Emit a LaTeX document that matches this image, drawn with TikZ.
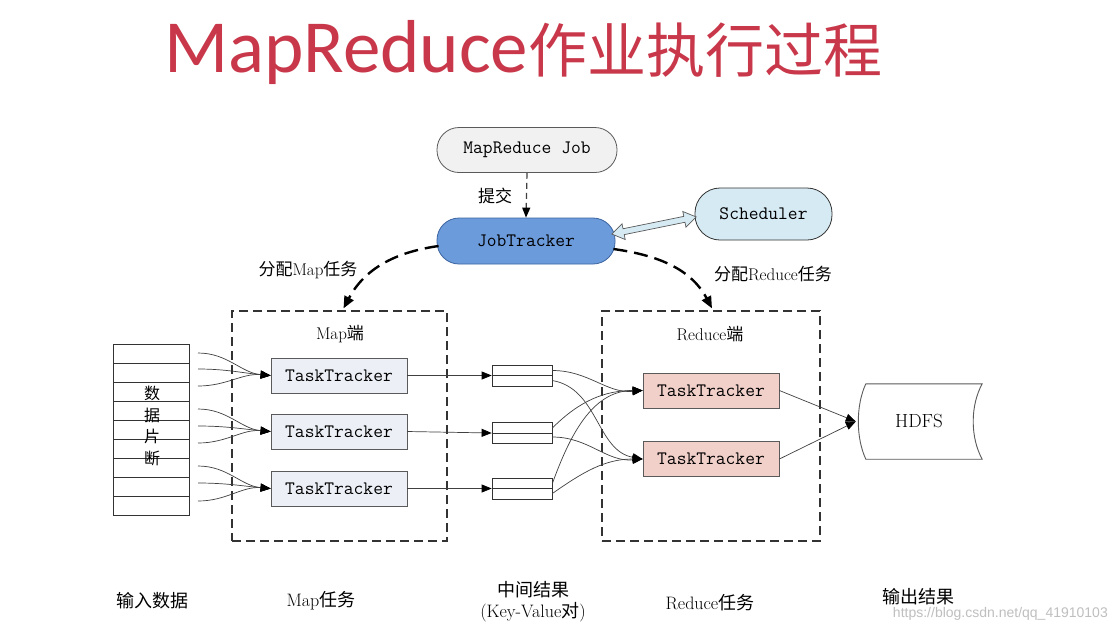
\documentclass[tikz,border=0pt]{standalone}
\usepackage{fontspec}
\newfontfamily\cjk{Noto Sans CJK SC}
\newfontfamily\wmfont{Liberation Sans}
\newfontfamily\titlefont{Carlito}
\usetikzlibrary{arrows.meta,calc}
\definecolor{titlered}{RGB}{200,56,74}
\definecolor{jobgray}{RGB}{241,241,241}
\definecolor{jtblue}{RGB}{108,155,219}
\definecolor{jtborder}{RGB}{60,100,160}
\definecolor{schblue}{RGB}{214,234,243}
\definecolor{ttmap}{RGB}{236,240,246}
\definecolor{ttred}{RGB}{242,208,202}
\definecolor{edge}{RGB}{90,90,90}
\begin{document}
\begin{tikzpicture}[x=1pt,y=-1pt,
  mono/.style={font=\fontsize{19}{19}\selectfont\ttfamily},
  pill/.style={mono, draw=edge, rounded corners=22pt, minimum height=45, inner sep=0, line width=0.8pt},
  ttbox/.style={mono, draw=edge, minimum width=136, minimum height=35, inner sep=0, line width=0.8pt},
  dbox/.style={draw=black!80, dashed, dash pattern=on 9pt off 5pt, line width=1.2pt},
  kv/.style={draw=black!80, minimum width=60, minimum height=21, inner sep=0, line width=0.7pt},
  flow/.style={draw=black!75, line width=0.7pt, -{Triangle[length=10pt,width=8pt,fill=black,color=black]}},
  assign/.style={line width=2.4pt, dash pattern=on 14pt off 7pt, -{Triangle[length=12pt,width=10pt]}},
  lbl/.style={font=\fontsize{17}{17}\selectfont, inner sep=0},
  bot/.style={font=\fontsize{18}{18}\selectfont, inner sep=0}
]
\useasboundingbox[fill=white] (0,0) rectangle (1116,630);

% title
\node[text=titlered, inner sep=0, anchor=base west] (title) at (164,72)
  {{\titlefont\fontsize{75}{75}\selectfont MapReduce}{\cjk\fontsize{59}{59}\selectfont 作业执行过程}};

% top part
\node[pill, fill=jobgray, minimum width=180] (job) at (527,150) {MapReduce Job};
\node[pill, fill=jtblue, draw=jtborder, minimum width=178, minimum height=46] (jt) at (526,241) {JobTracker};
\node[pill, fill=schblue, draw=black!80, minimum width=137, minimum height=52, rounded corners=25pt] (sch) at (763.5,214) {Scheduler};
\draw[flow, dashed, dash pattern=on 6pt off 4pt, line width=1.2pt] (job.south) -- (jt.north);
\node[lbl, font=\cjk\fontsize{17}{17}\selectfont] (submit) at (495,196) {提交};
\coordinate (dblmid) at ($(jt.east)!0.5!(sch.west)+(-1,-2)$);
\begin{scope}[shift={(dblmid)}, rotate=11.5]
  \draw[edge, fill=schblue, line width=0.7pt]
    (-43,0) -- (-31,8) -- (-31,3) -- (31,3) -- (31,8) -- (43,0) -- (31,-8) -- (31,-3) -- (-31,-3) -- (-31,-8) -- cycle;
\end{scope}

% dashed boxes
\node[dbox, minimum width=215, minimum height=230] (mapbox) at (339.5,426) {};
\node[dbox, minimum width=218, minimum height=230] (redbox) at (711,426) {};
\node[lbl] (maplbl) at (340,334) {Map{\cjk 端}};
\node[lbl] (redlbl) at (710,334) {Reduce{\cjk 端}};

% assignment arrows
\draw[assign] ($(jt.west)+(2,5)$) to[out=188, in=62] ($(mapbox.north)+(4,-2)$);
\draw[assign] ($(jt.east)+(-2,8)$) to[out=-8, in=118] ($(redbox.north)+(1,-2)$);
\node[lbl] (amap) at (308,270) {{\cjk 分配}Map{\cjk 任务}};
\node[lbl] (ared) at (773,274) {{\cjk 分配}Reduce{\cjk 任务}};

% input data stack
\node[draw=black!80, minimum width=76, minimum height=171, inner sep=0, line width=0.8pt] (input) at (151.5,430) {};
\foreach \k in {1,...,8} \draw[black!80, line width=0.8pt] (113.5,{344.5+19*\k}) -- (189.5,{344.5+19*\k});
\node[font=\cjk\fontsize{16}{21.5}\selectfont, inner sep=0, align=center] (frag) at (152,426)
  {数\\据\\片\\断};

% map tasktrackers
\node[ttbox, fill=ttmap] (m1) at (339,375.5) {TaskTracker};
\node[ttbox, fill=ttmap] (m2) at (339,431.5) {TaskTracker};
\node[ttbox, fill=ttmap] (m3) at (339,488.5) {TaskTracker};

% input arrows
\foreach \i/\y in {1/353,2/369,3/386} {\coordinate (ia\i) at (198,\y); \draw[flow] (ia\i) to[out=0,in=175] (m1.west);}
\foreach \i/\y in {1/409,2/426,3/443} {\coordinate (ib\i) at (198,\y); \draw[flow] (ib\i) to[out=0,in=175] (m2.west);}
\foreach \i/\y in {1/466,2/483,3/501} {\coordinate (ic\i) at (198,\y); \draw[flow] (ic\i) to[out=0,in=175] (m3.west);}

% intermediate key-value boxes
\node[kv] (k1) at (522,375.5) {};
\node[kv] (k2) at (522,433) {};
\node[kv] (k3) at (522,488.5) {};
\foreach \k in {k1,k2,k3} \draw[black!80, line width=0.7pt] (\k.west) -- (\k.east);
\draw[flow] (m1.east) -- (k1.west);
\draw[flow] (m2.east) -- (k2.west);
\draw[flow] (m3.east) -- (k3.west);

% reduce tasktrackers
\node[ttbox, fill=ttred] (r1) at (711,390.5) {TaskTracker};
\node[ttbox, fill=ttred] (r2) at (711,459) {TaskTracker};

% shuffle curves
\draw[flow] ($(k1.east)+(0,-5)$) to[out=0,in=185] (r1.west);
\draw[flow] ($(k1.east)+(0,5)$) to[out=-10,in=170] (r2.west);
\draw[flow] ($(k2.east)+(0,-5)$) to[out=45,in=180] (r1.west);
\draw[flow] ($(k2.east)+(0,4)$) to[out=0,in=185] (r2.west);
\draw[flow] ($(k3.east)+(0,-5)$) to[out=70,in=180] (r1.west);
\draw[flow] ($(k3.east)+(0,5)$) to[out=35,in=180] (r2.west);

% HDFS
\node[inner sep=0, minimum width=126, minimum height=75, font=\fontsize{19}{19}\selectfont] (hdfs) at (919,421.5) {HDFS};
\draw[edge, line width=0.9pt]
  ($(hdfs.north west)+(10,0)$) -- ($(hdfs.north east)$)
  .. controls ($(hdfs.east)+(-12,-16)$) and ($(hdfs.east)+(-12,16)$) .. ($(hdfs.south east)$)
  -- ($(hdfs.south west)+(10,0)$)
  .. controls ($(hdfs.west)+(0,16)$) and ($(hdfs.west)+(0,-16)$) .. ($(hdfs.north west)+(10,0)$);
\draw[flow] (r1.east) -- (hdfs.west);
\draw[flow] (r2.east) -- (hdfs.west);

% bottom labels
\node[bot, font=\cjk\fontsize{18}{18}\selectfont] (b1) at (152,601) {输入数据};
\node[bot] (b2) at (321,601) {Map{\cjk 任务}};
\node[bot, font=\cjk\fontsize{18}{18}\selectfont] (b3) at (533,590) {中间结果};
\node[bot] (b4) at (533,612) {(Key-Value{\cjk 对})};
\node[bot] (b5) at (710,603) {Reduce{\cjk 任务}};
\node[bot, font=\cjk\fontsize{18}{18}\selectfont] (b6) at (918,597) {输出结果};
\node[font=\wmfont\fontsize{14}{14}\selectfont, text=black!25, inner sep=0, anchor=east] (wm) at (1108,614) {https://blog.csdn.net/qq\_41910103};
\end{tikzpicture}
\end{document}
